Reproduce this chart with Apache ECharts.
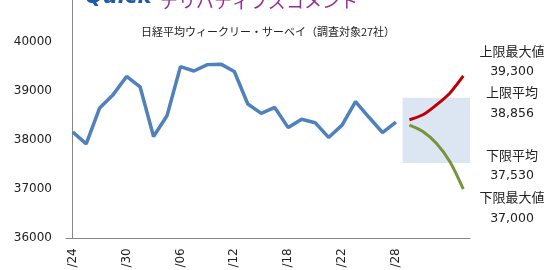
<!DOCTYPE html>
<html>
<head>
<meta charset="utf-8">
<script src="https://cdn.jsdelivr.net/npm/echarts@6/dist/echarts.min.js"></script>
<style>
html,body{margin:0;padding:0;background:#fff;overflow:hidden;}
#wrap{position:relative;width:550px;height:270px;overflow:hidden;}
#chart{position:absolute;left:0;top:-8px;width:550px;height:278px;}
</style>
</head>
<body>
<div id="wrap"><div id="chart"></div></div>
<script>
// Tick labels (every 4th week)
const tickLabels = ['/24', '/30', '/06', '/12', '/18', '/22', '/28'];
// Weekly Nikkei average closes (history)
const history = [38160, 37920, 38650, 38920, 39290, 39080, 38070, 38490, 39490, 39400,
                 39530, 39540, 39390, 38730, 38540, 38660, 38250, 38420, 38350, 38050,
                 38300, 38780, 38460, 38150, 38360];
// Forecast paths (5 points after history)
const upperPath = [38410, 38510, 38710, 38950, 39300];
const lowerPath = [38300, 38170, 37930, 37560, 37000];
// Survey summary
const upperMax = 39300, upperAvg = 38856, lowerAvg = 37530, lowerMax = 37000;
const summaryLabels = ['上限最大値', '上限平均', '下限平均', '下限最大値'];
const summaryValues = [upperMax, upperAvg, lowerAvg, lowerMax];
const titleText = '日経平均ウィークリー・サーベイ（調査対象27社）';

const OY = 8; // chart canvas is shifted up by this many px
const nHist = history.length;
const nAll = nHist + upperPath.length;
const categories = [];
for (let i = 0; i < nAll; i++) {
  categories.push(i % 4 === 0 && (i / 4) < tickLabels.length ? tickLabels[i / 4] : '');
}
const histData = categories.map((c, i) => i < nHist ? history[i] : null);
const upperData = categories.map((c, i) => i >= nHist ? upperPath[i - nHist] : null);
const lowerData = categories.map((c, i) => i >= nHist ? lowerPath[i - nHist] : null);
const fmt = v => v.toLocaleString('en-US');

const chart = echarts.init(document.getElementById('chart'), null, {renderer: 'canvas'});
const rightTexts = [];
const rightY = [50.7, 71.7, 92.3, 113.3, 155, 176, 196.7, 218.3];
summaryLabels.forEach((lab, k) => {
  rightTexts.push({type: 'text', style: {
    text: lab, x: 512, y: rightY[k * 2] + OY, align: 'center', verticalAlign: 'middle',
    font: '13px "Noto Sans CJK JP"', fill: '#222'}});
  rightTexts.push({type: 'text', style: {
    text: fmt(summaryValues[k]), x: 512, y: rightY[k * 2 + 1] + OY, align: 'center', verticalAlign: 'middle',
    font: '12.5px "DejaVu Sans"', fill: '#222'}});
});

chart.setOption({
  animation: false,
  backgroundColor: '#fff',
  grid: {left: 66, right: 80, top: 0.3, bottom: 31.7, containLabel: false, outerBoundsMode: 'none'},
  xAxis: [{
    type: 'category', data: categories, boundaryGap: true,
    axisLine: {lineStyle: {color: '#868686', width: 1}},
    axisTick: {show: false},
    axisLabel: {interval: 0, rotate: 90, margin: 10, fontFamily: 'DejaVu Sans', fontSize: 12, color: '#222'},
    splitLine: {show: false}
  }, {
    type: 'value', min: -0.5, max: nAll - 0.5, show: false
  }],
  yAxis: {
    type: 'value', min: 36000, max: 41000, interval: 1000,
    axisLine: {show: true, lineStyle: {color: '#868686', width: 1}},
    axisTick: {show: false},
    splitLine: {show: false},
    axisLabel: {margin: 14, fontFamily: 'DejaVu Sans', fontSize: 12, color: '#222',
      formatter: v => String(v)}
  },
  graphic: [
    {type: 'text', style: {text: 'Quick', x: 85, y: 8 + OY, verticalAlign: 'bottom',
      font: 'bold italic 21px "DejaVu Sans"', fill: '#1d5aa7'}},
    {type: 'text', style: {text: 'デリバティブズコメント', x: 160, y: 10 + OY, verticalAlign: 'bottom',
      font: '18px "Noto Sans CJK JP"', fill: '#982c96'}},
    {type: 'text', style: {text: titleText, x: 268, y: 31.5 + OY, align: 'center', verticalAlign: 'middle',
      font: '11px "Noto Sans CJK JP"', fill: '#222'}}
  ].concat(rightTexts),
  series: [
    {
      type: 'line', xAxisIndex: 1, data: [], z: 1, silent: true,
      markArea: {silent: true, itemStyle: {color: '#dce6f2', opacity: 1},
        data: [[{xAxis: nHist - 0.5, yAxis: upperAvg}, {xAxis: nAll - 0.5, yAxis: lowerAvg}]]}
    },
    {type: 'line', data: histData, showSymbol: false, lineStyle: {color: '#4f81bd', width: 3.5}, z: 3},
    {type: 'line', data: upperData, showSymbol: false, smooth: 0.3, lineStyle: {color: '#c00000', width: 3}, z: 3},
    {type: 'line', data: lowerData, showSymbol: false, smooth: 0.3, lineStyle: {color: '#77933c', width: 3}, z: 3}
  ]
});
</script>
</body>
</html>
